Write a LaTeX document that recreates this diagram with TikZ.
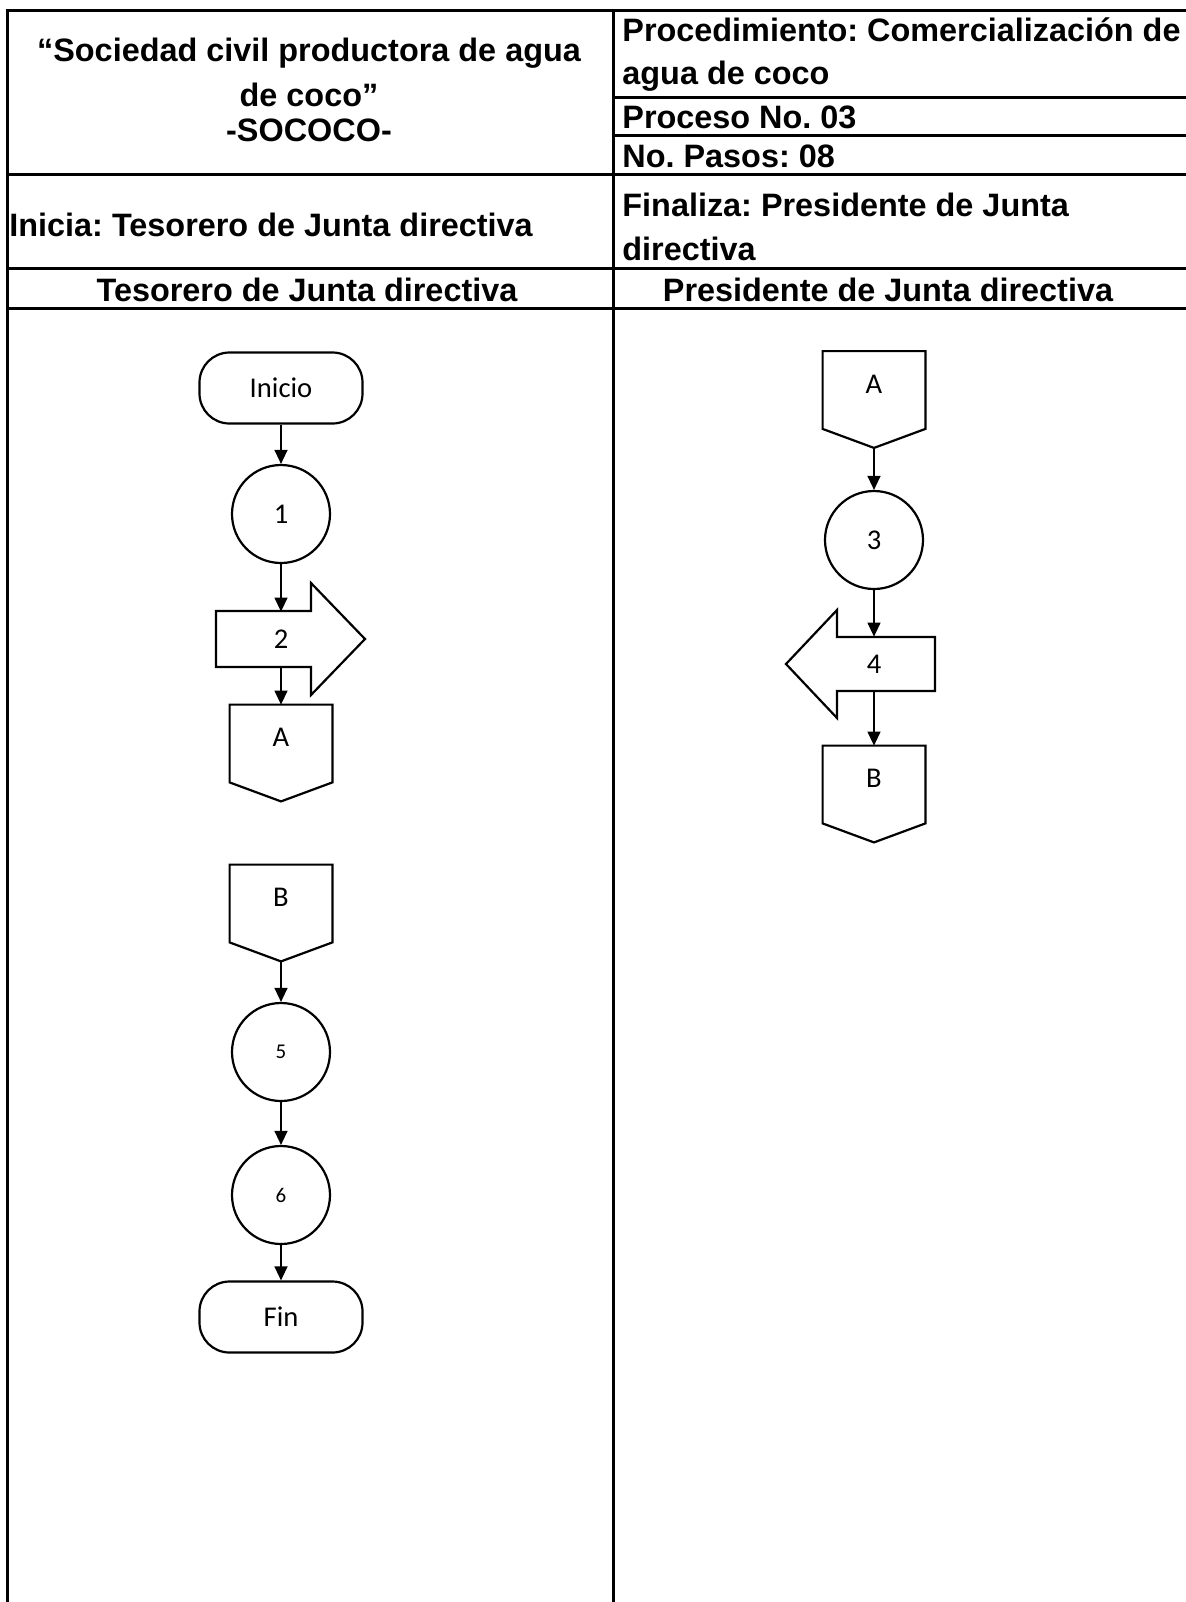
\documentclass[tikz,border=0pt]{standalone}
\usepackage{fontspec}
\setmainfont{Liberation Sans}
\newfontfamily\calibri{Carlito}
\frenchspacing
\usetikzlibrary{
	arrows.meta,
	calc,
	positioning
}

\tikzset{
	tabla/.style={line width=1.5pt},
	linea/.style={line width=1.1pt, line join=miter},
	flecha/.style={line width=0.65pt, -{Triangle[length=7pt, width=6.5pt]}},
	encabezado/.style={font=\bfseries\fontsize{16.2}{17.5}\selectfont, inner sep=0pt},
	celda/.style={encabezado, anchor=west, align=left, font=\bfseries\fontsize{16.2}{21.5}\selectfont},
	terminal/.style={draw, linea, rounded corners=15pt, minimum width=81.5pt, minimum height=35.5pt, font=\calibri\fontsize{14.3}{17}\selectfont},
	actividad/.style={draw, circle, linea, minimum size=49pt, inner sep=0pt, font=\calibri\fontsize{14.3}{17}\selectfont},
	conector/.style={minimum width=51pt, minimum height=38.5pt, inner sep=0pt, text depth=6pt, font=\calibri\fontsize{14.3}{17}\selectfont},
	bloque/.style={minimum height=27pt, inner sep=0pt, font=\calibri\fontsize{14.3}{17}\selectfont}
}

\begin{document}
\begin{tikzpicture}[x=0.5pt, y=-0.5pt]
		\useasboundingbox (0,0) rectangle (1186,1602);
		% tabla
		\draw[tabla] (7,1602) -- (7,10) -- (1186,10);
		\draw[tabla] (613,10) -- (613,1602);
		\draw[tabla] (613,97) -- (1186,97);
		\draw[tabla] (613,135) -- (1186,135);
		\foreach \y in {174, 268, 308}
		\draw[tabla] (7,\y) -- (1186,\y);
		\node[encabezado, align=center] (titulo) at (309,90) {“Sociedad civil productora de agua\\[5pt]de coco”\\-SOCOCO-};
		\node[celda] (proc) at (622,55) {Procedimiento: Comercialización de\\agua de coco};
		\node[celda] (proceso) at (622,117) {Proceso No. 03};
		\node[celda] (pasos) at (622,156) {No. Pasos: 08};
		\node[celda] (inicia) at (9,225) {Inicia: Tesorero de Junta directiva};
		\node[celda, font=\bfseries\fontsize{16.2}{22}\selectfont] (finaliza) at (622,227) {Finaliza: Presidente de Junta\\directiva};
		\node[encabezado] (tesorero) at (307,290) {Tesorero de Junta directiva};
		\node[encabezado] (presidente) at (888,290) {Presidente de Junta directiva};
		% Tesorero
		\node[terminal] (ini) at (281,388) {Inicio};
		\node[actividad] (p1) at (281,514) {1};
		\draw[linea] (216,611) -- (311,611) -- (311,583) -- (365,639) -- (311,695) -- (311,667) -- (216,667) -- cycle;
		\node[bloque] (p2) at (281,639) {2};
		\node[actividad, font=\calibri\fontsize{10.5}{13}\selectfont] (p5) at (281,1052) {5};
		\node[actividad, font=\calibri\fontsize{10.5}{13}\selectfont] (p6) at (281,1195) {6};
		\node[terminal] (fin) at (281,1317) {Fin};
		% Presidente
		\node[actividad] (p3) at (874,540) {3};
		\draw[linea] (935,637) -- (837,637) -- (837,610) -- (786,664) -- (837,718) -- (837,691) -- (935,691) -- cycle;
		\node[bloque] (p4) at (874,664) {4};
		% conectores de pagina
		\foreach \n/\x/\y/\t in {ca/281/743.5/A, cb/281/903.5/B, ra/874/390/A, rb/874/784.5/B}{
			\node[conector] (\n) at (\x,\y) {\t};
			\draw[linea] (\n.south west) -- (\n.north west) -- (\n.north east) -- (\n.south east) -- ($(\n.south)+(0,19)$) coordinate (\n-pt) -- cycle;
		}
		\foreach \a/\b in {ini/p1, p1/p2, p2/ca, cb-pt/p5, p5/p6, p6/fin, ra-pt/p3, p3/p4, p4/rb}
		\draw[flecha] (\a) -- (\b);
	\end{tikzpicture}
\end{document}
